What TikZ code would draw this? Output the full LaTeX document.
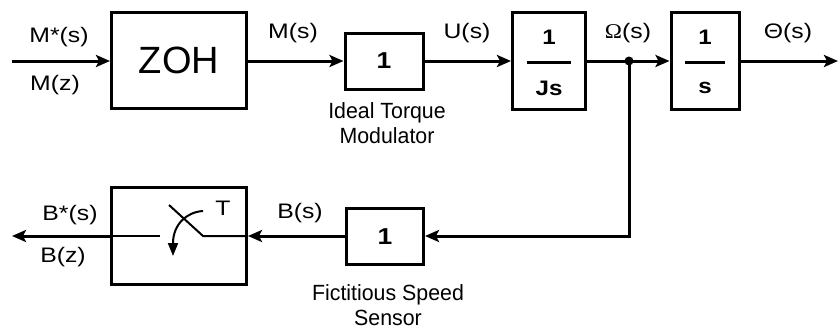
\documentclass[tikz,border=0pt]{standalone}
\usepackage{fontspec}
\setmainfont{Liberation Sans}
\newfontfamily\sigfont{Liberation Sans}[FakeStretch=1.18]
\newfontfamily\annfont{Liberation Sans}[FakeStretch=0.97]
\newfontfamily\blkfont{Liberation Sans}[FakeStretch=1.15]
\newfontfamily\grfont{Liberation Serif}[FakeStretch=1.1]
\usetikzlibrary{arrows.meta}
\begin{document}
\begin{tikzpicture}[x=1pt,y=-1pt,
  blk/.style={draw, line width=3pt, inner sep=0pt},
  sig/.style={line width=3pt, -{Stealth[length=14pt,width=12pt,inset=3pt]}},
  thin/.style={line width=2pt},
  lab/.style={inner sep=0pt, font=\sigfont\fontsize{21}{25}\selectfont},
  num/.style={inner sep=0pt, font=\blkfont\bfseries\fontsize{21}{24}\selectfont},
  one/.style={inner sep=0pt, font=\blkfont\bfseries\fontsize{23}{26}\selectfont},
  ann/.style={inner sep=0pt, align=center, font=\annfont\fontsize{22}{25}\selectfont}]
\useasboundingbox (0,0) rectangle (839,330);
\fill[white] (0,0) rectangle (839,330);

% blocks
\node[blk, minimum width=135pt, minimum height=96pt, font=\fontsize{38}{44}\selectfont] (zoh) at (179,60) {ZOH};
\node[blk, minimum width=78pt, minimum height=56pt] (tm) at (384,61) {};
\node[one] (tm1) at (384,61) {1};
\node[blk, minimum width=73pt, minimum height=97pt] (js) at (549,61) {};
\node[num] (js1) at (549,37) {1};
\node[num] (js2) at (549,88) {Js};
\draw[line width=3pt] (527,62) -- (571,62);
\node[blk, minimum width=68pt, minimum height=97pt] (si) at (705,61) {};
\node[num] (si1) at (705,37) {1};
\node[num] (si2) at (705,88) {s};
\draw[line width=3pt] (685,62) -- (725,62);

\node[blk, minimum width=135pt, minimum height=97pt] (samp) at (179,236) {};
\node[blk, minimum width=77pt, minimum height=56pt] (fb) at (385,236) {};
\node[one] (fb1) at (385,237) {1};

% coordinates
\coordinate (in) at (12,61);
\coordinate (out) at (838,61);
\coordinate (junc) at (629,61);
\coordinate (bout) at (12,236);

% connectors
\draw[sig] (in) -- (in -| zoh.west);
\draw[sig] (zoh.east |- tm.west) -- (tm.west);
\draw[sig] (tm.east) -- (js.west);
\draw[sig] (js.east) -- (si.west);
\draw[sig] (si.east) -- (out);
\fill (junc) circle (4.5pt);
\draw[sig] (junc) |- (fb.east);
\draw[sig] (fb.west) -- (samp.east);
\draw[sig] (samp.west) -- (bout);

% switch
\draw[thin] (samp.west) -- (160,236);
\draw[thin] (samp.east) -- (203,236) -- (169,205);
\draw[thin, -{Triangle[length=13pt,width=10pt]}] (203,211) .. controls (187,212) and (173,224) .. (173,256);
\node[lab] (T) at (223,208) {T};

% labels
\node[lab] (lMs) at (59,37) {M*(s)};
\node[lab] (lMz) at (55,85) {M(z)};
\node[lab] (lM) at (293,33) {M(s)};
\node[lab] (lU) at (467,33) {U(s)};
\node[lab] (lO) at (628,33) {{\grfont\fontsize{21}{25}\selectfont Ω}(s)};
\node[lab] (lT) at (788,33) {Θ(s)};
\node[lab] (lBs) at (70,215) {B*(s)};
\node[lab] (lBz) at (63,257) {B(z)};
\node[lab] (lB) at (300,213) {B(s)};
\node[ann] (atm) at (387,123) {Ideal Torque\\Modulator};
\node[ann] (afb) at (388,305) {Fictitious Speed\\Sensor};
\end{tikzpicture}
\end{document}
